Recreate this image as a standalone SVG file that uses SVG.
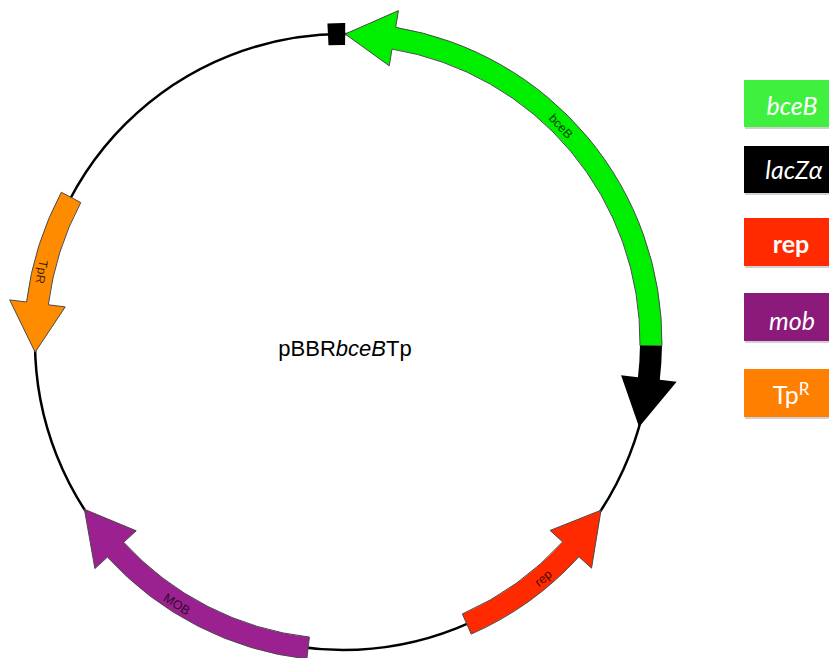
<svg xmlns="http://www.w3.org/2000/svg" width="829" height="658" viewBox="0 0 829 658">
<style>
  .feat { stroke: #4a4a4a; stroke-width: 1; stroke-linejoin: miter; }
  .lbl { font-family: "Liberation Sans", Arial, sans-serif; font-size: 12.5px; fill: #000; fill-opacity: 0.75; text-anchor: middle; }
  .leg { font-family: Lato, "Open Sans", sans-serif; font-size: 25px; fill: #fff; text-anchor: middle; }
  .shadow { fill: #999; opacity: 0.45; }
</style>
<rect width="829" height="658" fill="#fff"/>
<g id="backbone">
  <circle cx="343" cy="342" r="308" fill="none" stroke="#000" stroke-width="2.5"/>
</g>
<g id="features">
  <g id="bceB">
    <path class="feat" fill="#00ee00" d="M661.98,345.90 A319,319 0 0 0 395.65,27.37 L398.46,10.61 L345.15,34.01 L389.21,65.84 L392.02,49.07 A297,297 0 0 1 639.98,345.63 Z"/>
    <text class="lbl" transform="translate(561,126) rotate(47)" y="4.5">bceB</text>
  </g>
  <g id="lacZa">
    <path fill="#000" d="M639.98,345.63 L661.98,345.90 A319,319 0 0 1 659.79,379.77 L676.67,381.78 L639.07,426.90 L621.06,375.15 L637.94,377.17 A297,297 0 0 0 639.98,345.63 Z"/>
    <path fill="#000" d="M327.42,23.38 A319,319 0 0 1 345.23,23.01 L345.07,45.01 A297,297 0 0 0 328.49,45.35 Z"/>
  </g>
  <g id="rep">
    <path class="feat" fill="#ff2a00" d="M471.22,634.10 A319,319 0 0 0 578.94,556.69 L591.52,568.13 L601.02,510.20 L550.10,530.44 L562.67,541.88 A297,297 0 0 1 462.38,613.95 Z"/>
    <text class="lbl" transform="translate(543,578) rotate(-40)" y="4.5">rep</text>
  </g>
  <g id="mob">
    <path class="feat" fill="#9b2190" d="M306.89,658.95 A319,319 0 0 1 107.43,557.10 L94.88,568.57 L84.41,509.32 L136.23,530.80 L123.68,542.27 A297,297 0 0 0 309.38,637.09 Z"/>
    <text class="lbl" transform="translate(177,604) rotate(33)" y="4.5">MOB</text>
  </g>
  <g id="TpR">
    <path class="feat" fill="#ff8c00" d="M61.34,192.24 A319,319 0 0 0 26.52,302.02 L9.65,299.89 L35.17,352.21 L65.21,306.91 L48.34,304.78 A297,297 0 0 1 80.76,202.57 Z"/>
    <text class="lbl" transform="translate(42,272) rotate(100)" y="4.5">TpR</text>
  </g>
</g>
<g id="title">
  <text x="345" y="356" font-family="'Liberation Sans', Arial, sans-serif" font-size="22" text-anchor="middle" fill="#000">pBBR<tspan font-style="italic">bceB</tspan>Tp</text>
</g>
<g id="legend">
  <g id="leg-bceB">
    <rect class="shadow" x="745" y="82" width="84" height="47"/>
    <rect x="744" y="80" width="85" height="47" fill="#3ff03f"/>
    <text class="leg" x="792" y="115" font-style="italic">bceB</text>
  </g>
  <g id="leg-lacZa">
    <rect class="shadow" x="745" y="148" width="84" height="47"/>
    <rect x="744" y="146" width="85" height="47" fill="#000"/>
    <text class="leg" x="794" y="179" font-style="italic">lacZα</text>
  </g>
  <g id="leg-rep">
    <rect class="shadow" x="745" y="220" width="84" height="48"/>
    <rect x="744" y="218" width="85" height="48" fill="#ff2a00"/>
    <text class="leg" x="791" y="253" font-weight="bold">rep</text>
  </g>
  <g id="leg-mob">
    <rect class="shadow" x="745" y="295" width="84" height="48"/>
    <rect x="744" y="293" width="85" height="48" fill="#8b1a7a"/>
    <text class="leg" x="792" y="330" font-style="italic">mob</text>
  </g>
  <g id="leg-TpR">
    <rect class="shadow" x="745" y="371" width="84" height="48"/>
    <rect x="744" y="369" width="85" height="48" fill="#ff7f00"/>
    <text class="leg" x="791" y="404">Tp<tspan font-size="17" dy="-9">R</tspan></text>
  </g>
</g>
</svg>
